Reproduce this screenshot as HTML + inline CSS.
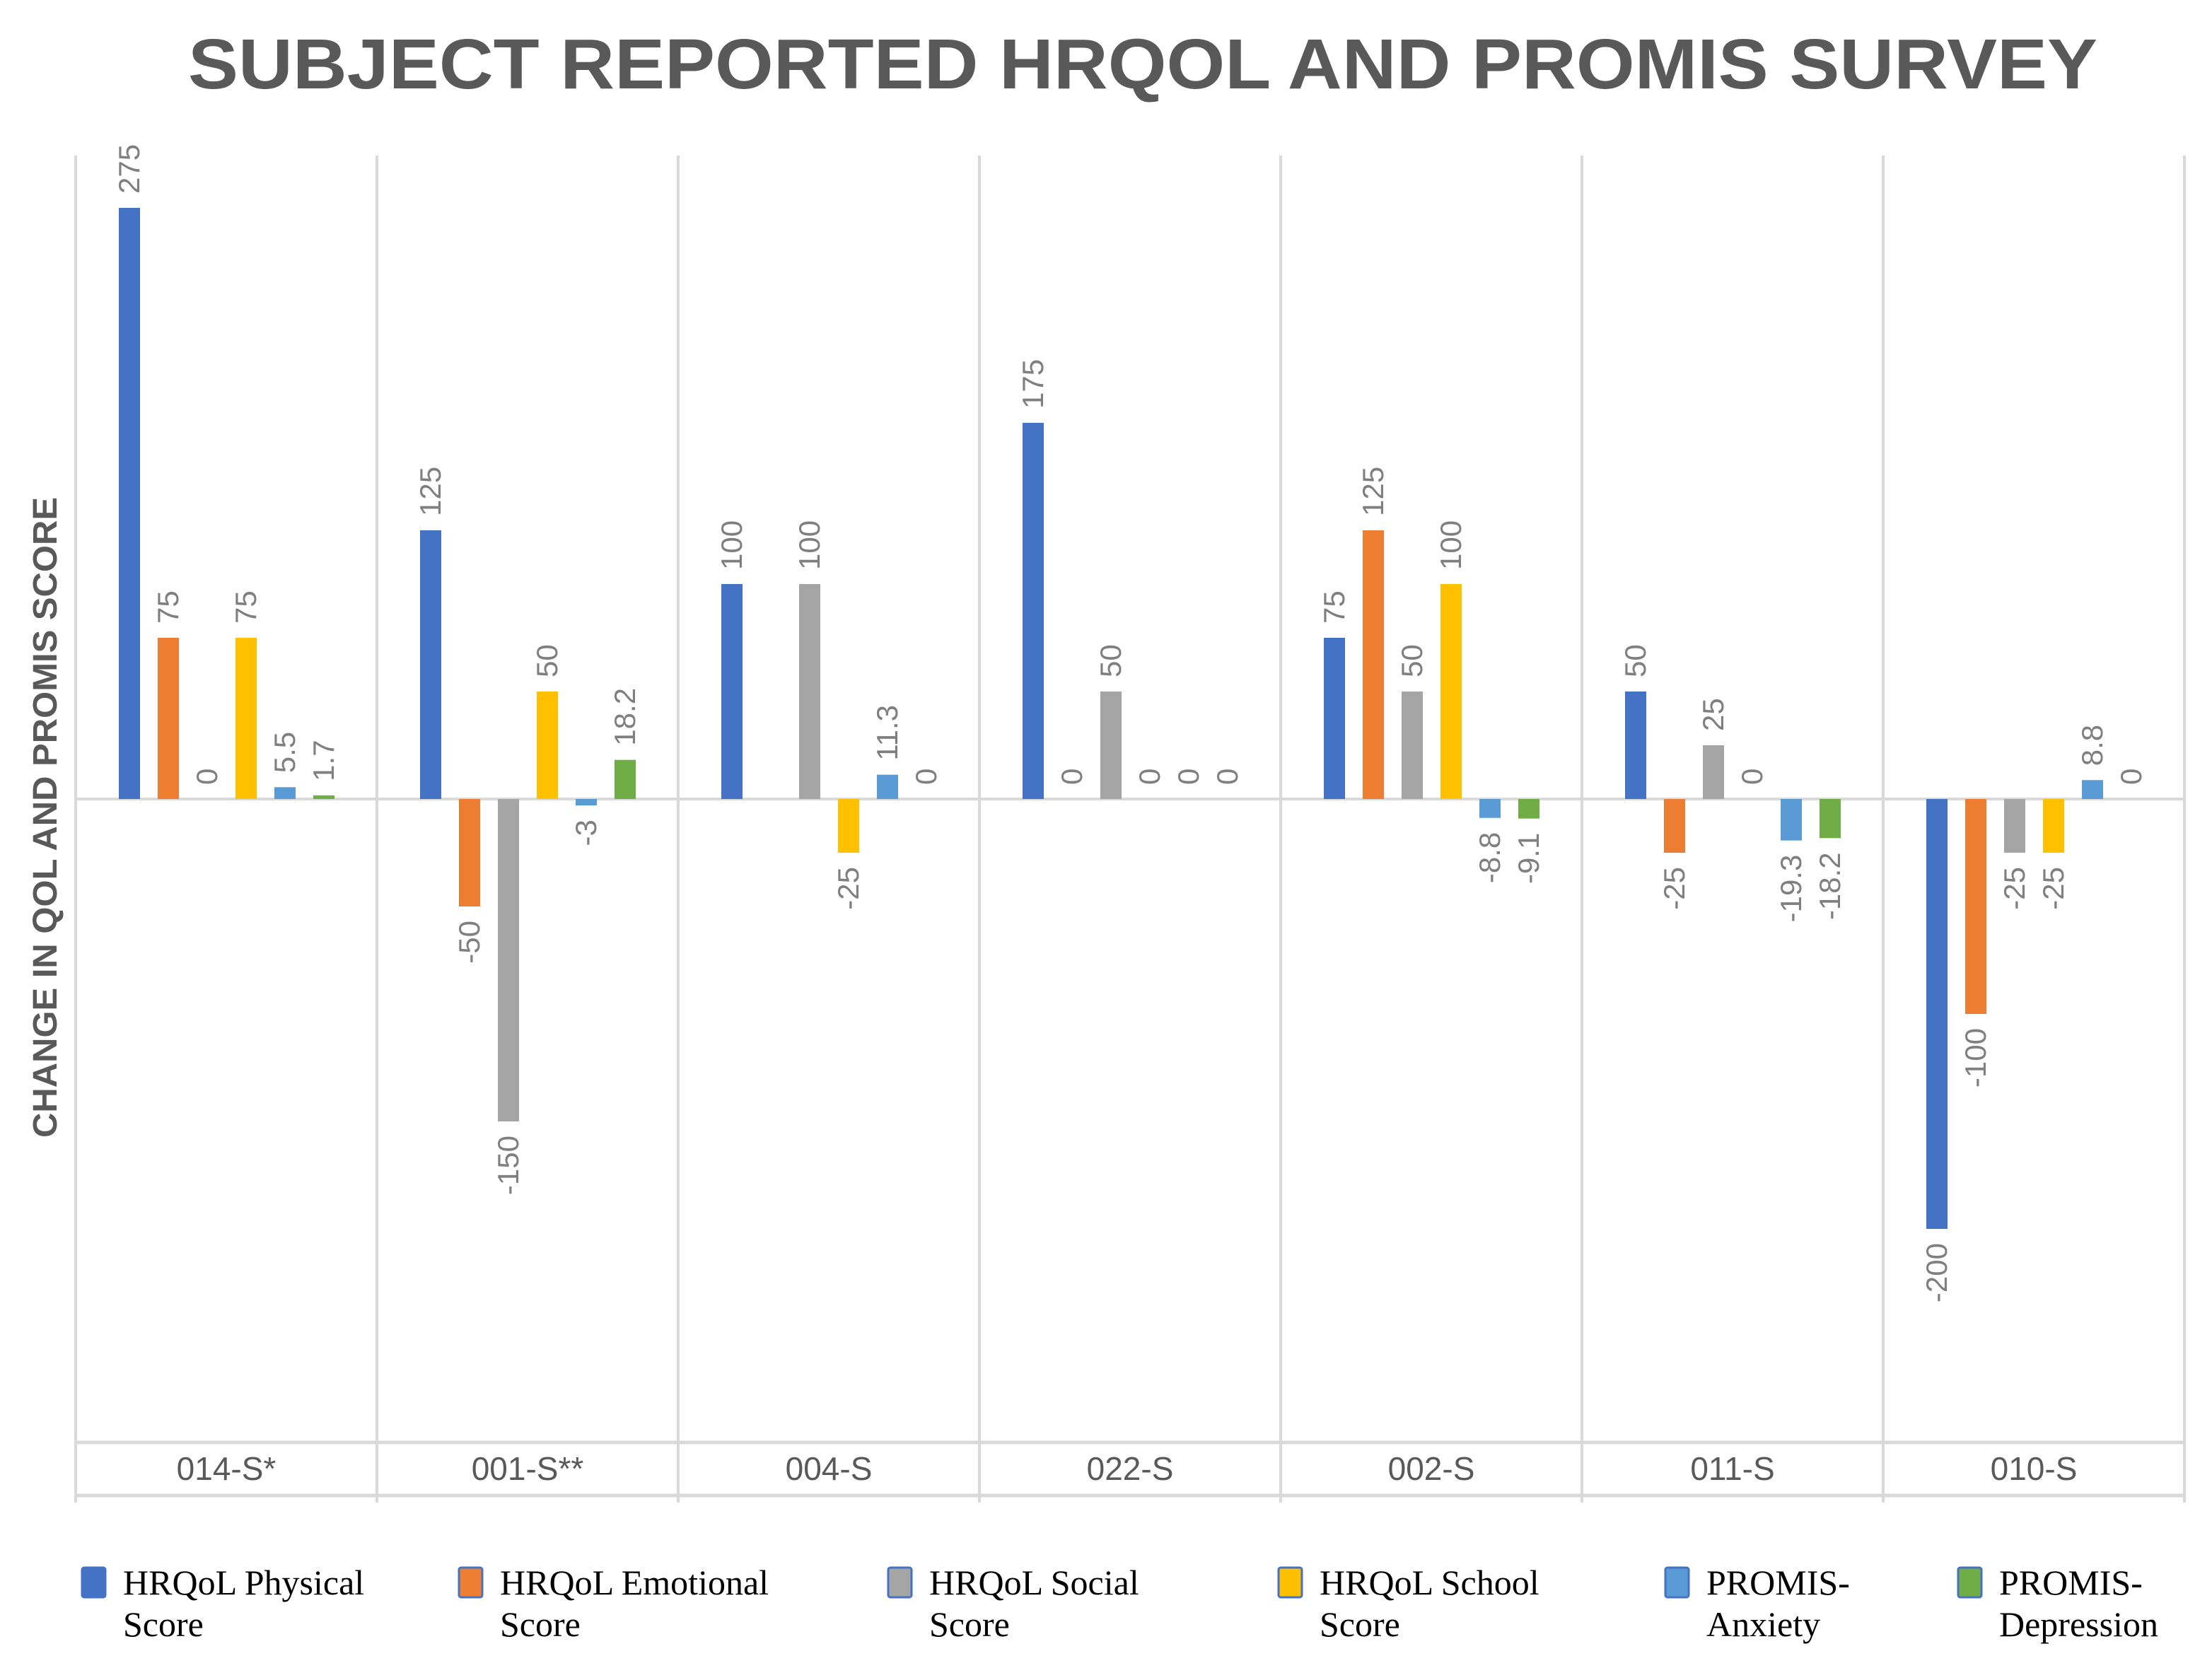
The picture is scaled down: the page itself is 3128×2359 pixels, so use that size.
<!DOCTYPE html>
<html><head><meta charset="utf-8"><style>
html,body{margin:0;padding:0;background:#fff;}
svg{display:block;}
</style></head><body>
<svg id="chart" width="3128" height="2359" viewBox="0 0 3128 2359" xmlns="http://www.w3.org/2000/svg">
<rect width="3128" height="2359" fill="#fff"/>
<text x="1616" y="125" text-anchor="middle" font-family="Liberation Sans, sans-serif" font-weight="bold" font-size="100" fill="#595959" textLength="2700" lengthAdjust="spacingAndGlyphs">SUBJECT REPORTED HRQOL AND PROMIS SURVEY</text>
<text transform="translate(80,1156) rotate(-90)" text-anchor="middle" font-family="Liberation Sans, sans-serif" font-weight="bold" font-size="48" fill="#595959" textLength="906" lengthAdjust="spacingAndGlyphs">CHANGE IN QOL AND PROMIS SCORE</text>
<g id="grid"></g>
<g id="bars"></g>
<g id="labels"></g>
<g id="legend"></g>
</svg>
<script>
const categories = ["014-S*","001-S**","004-S","022-S","002-S","011-S","010-S"];
const seriesNames = ["HRQoL Physical Score","HRQoL Emotional Score","HRQoL Social Score","HRQoL School Score","PROMIS-Anxiety","PROMIS-Depression"];
const physical = [275,125,100,175,75,50,-200];
const emotional = [75,-50,null,0,125,-25,-100];
const social = [0,-150,100,50,50,25,-25];
const school = [75,50,-25,0,100,0,-25];
const anxiety = [5.5,-3,11.3,0,-8.8,-19.3,8.8];
const depression = [1.7,18.2,0,0,-9.1,-18.2,0];
const colors = ["#4472C4","#ED7D31","#A5A5A5","#FFC000","#5B9BD5","#70AD47"];
const allSeries = [physical,emotional,social,school,anxiety,depression];

const NS = "http://www.w3.org/2000/svg";
const plotLeft = 107, groupW = 426, plotTop = 220, plotBottom = 2125;
const zeroY = 1130, pxPerUnit = 3.04;
const bandTop = 2040, bandBottom = 2115;
function yScale(v){ return zeroY - v * pxPerUnit; }
function xGroup(i){ return plotLeft + i * groupW; }
function xBar(i, s){ return xGroup(i) + 61 + s * 55; }
const barW = 30;

function mk(tag, attrs, parent){
  const el = document.createElementNS(NS, tag);
  for (const k in attrs) el.setAttribute(k, attrs[k]);
  parent.appendChild(el);
  return el;
}
const grid = document.getElementById('grid');
for (let i = 0; i <= categories.length; i++) {
  const l = mk('line', {x1: xGroup(i), x2: xGroup(i), y1: plotTop, y2: plotBottom, stroke: '#d9d9d9', 'stroke-width': 4}, grid);
  
  
}
const zl = mk('line', {x1: plotLeft, x2: xGroup(categories.length), y1: zeroY, y2: zeroY, stroke: '#d9d9d9', 'stroke-width': 4}, grid);


[bandTop, bandBottom].forEach(y => {
  const l = mk('line', {x1: plotLeft, x2: xGroup(categories.length), y1: y, y2: y, stroke: '#d9d9d9', 'stroke-width': 5}, grid);
  
  
});
categories.forEach((c, i) => {
  const t = mk('text', {x: xGroup(i) + groupW / 2, y: 2093, 'text-anchor': 'middle', 'font-family': 'Liberation Sans, sans-serif', 'font-size': 46, fill: '#595959'}, grid);
  t.textContent = c;
  
  
});

const bars = document.getElementById('bars');
const labels = document.getElementById('labels');
allSeries.forEach((arr, s) => {
  arr.forEach((v, i) => {
    if (v === null) return;
    const x = xBar(i, s);
    const y0 = yScale(Math.max(v, 0)), y1 = yScale(Math.min(v, 0));
    if (v !== 0) {
      const r = mk('rect', {x: x, y: y0, width: barW, height: Math.max(y1 - y0, 1), fill: colors[s]}, bars);
      
      
    }
    const cx = x + barW / 2 + 14;
    let t;
    if (v >= 0) {
      t = mk('text', {transform: `translate(${cx},${y0 - 20}) rotate(-90)`, 'text-anchor': 'start'}, labels);
    } else {
      t = mk('text', {transform: `translate(${cx},${y1 + 20}) rotate(-90)`, 'text-anchor': 'end'}, labels);
    }
    t.setAttribute('font-family', 'Liberation Sans, sans-serif');
    t.setAttribute('font-size', '42');
    t.setAttribute('fill', '#7f7f7f');
    t.textContent = String(v);
    
    
  });
});

const legend = document.getElementById('legend');
const legX = [116, 649, 1256, 1808, 2355, 2769];
const legLines = [["HRQoL Physical","Score"],["HRQoL Emotional","Score"],["HRQoL Social","Score"],["HRQoL School","Score"],["PROMIS-","Anxiety"],["PROMIS-","Depression"]];
seriesNames.forEach((n, s) => {
  const g = mk('g', {}, legend);
  
  
  mk('rect', {x: legX[s], y: 2217, width: 33, height: 42, fill: colors[s], stroke: '#4472C4', 'stroke-width': 3, rx: 3}, g);
  const t = mk('text', {x: legX[s] + 58, y: 2255, 'font-family': 'Liberation Serif, serif', 'font-size': 50, fill: '#000'}, g);
  t.textContent = legLines[s][0];
  const t2 = mk('text', {x: legX[s] + 58, y: 2314, 'font-family': 'Liberation Serif, serif', 'font-size': 50, fill: '#000'}, g);
  t2.textContent = legLines[s][1];
});
</script>
</body></html>
